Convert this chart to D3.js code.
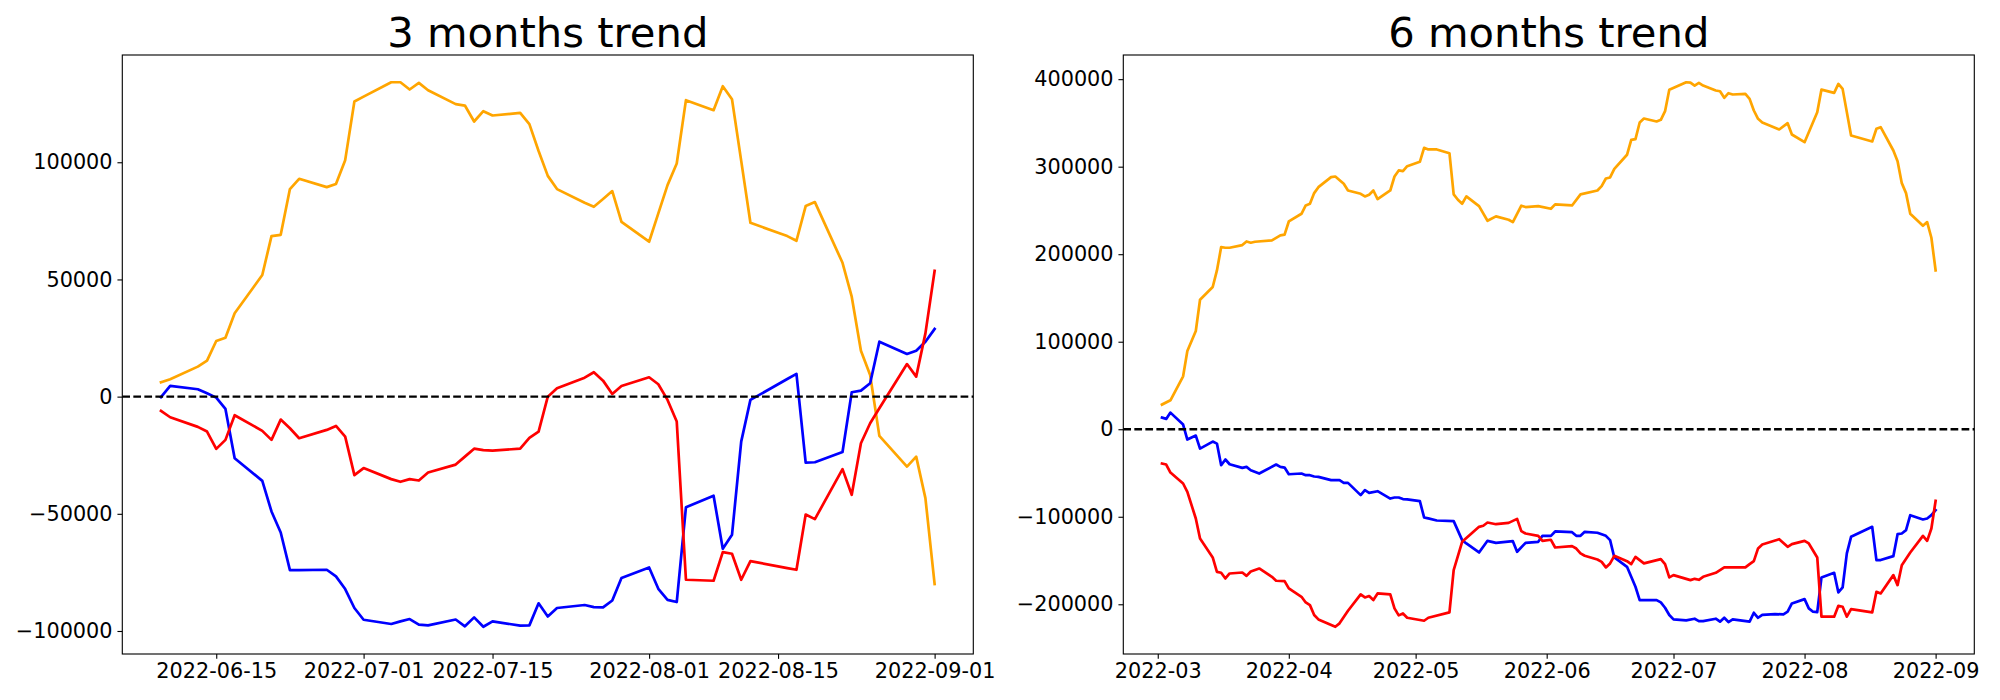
<!DOCTYPE html>
<html>
<head>
<meta charset="utf-8">
<script src="https://cdn.jsdelivr.net/npm/d3@7"></script>
<style>
  body { margin: 0; background: #fff; }
  text { font-family: "DejaVu Sans", sans-serif; }
</style>
</head>
<body>
<svg id="chart" width="2000" height="700"></svg>
<script>
// ---------------- DATA ----------------
const titles = ["3 months trend", "6 months trend"];

// 3-month panel: shared trading dates
const dates3 = ["2022-06-09","2022-06-10","2022-06-13","2022-06-14","2022-06-15","2022-06-16","2022-06-17","2022-06-20","2022-06-21","2022-06-22","2022-06-23","2022-06-24","2022-06-27","2022-06-28","2022-06-29","2022-06-30","2022-07-01","2022-07-04","2022-07-05","2022-07-06","2022-07-07","2022-07-08","2022-07-11","2022-07-12","2022-07-13","2022-07-14","2022-07-15","2022-07-18","2022-07-19","2022-07-20","2022-07-21","2022-07-22","2022-07-25","2022-07-26","2022-07-27","2022-07-28","2022-07-29","2022-08-01","2022-08-02","2022-08-03","2022-08-04","2022-08-05","2022-08-08","2022-08-09","2022-08-10","2022-08-11","2022-08-12","2022-08-15","2022-08-16","2022-08-17","2022-08-18","2022-08-19","2022-08-22","2022-08-23","2022-08-24","2022-08-25","2022-08-26","2022-08-29","2022-08-30","2022-08-31","2022-09-01"];
const orange3 = [6140,7400,12800,15350,23750,25150,35550,51900,68500,69050,88550,92950,89400,90700,100900,125900,128000,134150,134150,131050,133850,130750,124800,124200,117400,121800,119950,121050,116250,104800,94200,88550,82700,81000,84300,87700,74600,66100,78200,90250,99500,126500,122200,132450,126900,100600,74200,69900,68500,66500,81300,83000,57100,42650,19600,9250,-16750,-29850,-25600,-43300,-80000];
const blue3 = [-250,4560,3150,1450,-420,-5240,-26270,-35940,-49000,-57970,-74000,-74000,-73870,-76700,-82100,-90200,-95200,-97000,-95900,-94900,-97300,-97600,-95100,-98000,-94200,-98200,-95900,-97700,-97600,-88200,-93800,-90200,-88900,-89800,-89950,-86970,-77400,-72900,-82000,-86700,-87650,-47150,-42300,-64900,-58950,-19200,-1400,5290,7500,9680,-28130,-27990,-23600,1860,2560,5700,23450,18200,19600,23450,28860];
const red3 = [-6100,-8800,-12900,-14900,-22300,-18450,-7950,-14600,-18450,-9800,-13500,-17750,-14200,-12500,-17050,-33500,-30500,-35200,-36350,-35200,-35800,-32400,-29000,-25600,-22200,-22800,-23000,-22200,-17600,-14900,0,3570,8100,10400,6820,1150,4560,8270,5290,-1400,-10650,-78140,-78570,-66350,-67060,-78140,-70170,-72400,-73170,-73880,-50300,-52270,-30950,-41900,-19870,-11340,-4950,13900,8530,27000,53700];

// 6-month panel: [date, value] per series
const orange6 = [["2022-03-02",28200],["2022-03-04",33100],["2022-03-07",60500],["2022-03-08",89400],["2022-03-10",112200],["2022-03-11",148000],["2022-03-14",162500],["2022-03-15",181500],["2022-03-16",208100],["2022-03-17",207400],["2022-03-18",207400],["2022-03-21",210400],["2022-03-22",214600],["2022-03-23",213100],["2022-03-24",214200],["2022-03-28",215800],["2022-03-30",221500],["2022-03-31",222300],["2022-04-01",237400],["2022-04-04",246200],["2022-04-05",255700],["2022-04-06",257600],["2022-04-07",269800],["2022-04-08",276600],["2022-04-11",288000],["2022-04-12",288800],["2022-04-14",280500],["2022-04-15",272800],["2022-04-18",269000],["2022-04-19",266000],["2022-04-20",268000],["2022-04-21",272800],["2022-04-22",262900],["2022-04-25",272800],["2022-04-26",288800],["2022-04-27",295700],["2022-04-28",295000],["2022-04-29",300600],["2022-05-02",305600],["2022-05-03",321600],["2022-05-04",319700],["2022-05-06",319700],["2022-05-09",315400],["2022-05-10",268300],["2022-05-11",262200],["2022-05-12",257700],["2022-05-13",266000],["2022-05-16",254900],["2022-05-18",238200],["2022-05-20",243200],["2022-05-23",239400],["2022-05-24",236700],["2022-05-26",255400],["2022-05-27",253900],["2022-05-30",255000],["2022-06-02",251900],["2022-06-03",256900],["2022-06-07",255700],["2022-06-09",268300],["2022-06-13",272800],["2022-06-14",277800],["2022-06-15",286500],["2022-06-16",287700],["2022-06-17",297600],["2022-06-20",313600],["2022-06-21",330700],["2022-06-22",331500],["2022-06-23",350500],["2022-06-24",355000],["2022-06-27",351600],["2022-06-28",353500],["2022-06-29",363400],["2022-06-30",387800],["2022-07-04",396500],["2022-07-05",396100],["2022-07-06",392700],["2022-07-07",395700],["2022-07-08",392700],["2022-07-11",387000],["2022-07-12",386200],["2022-07-13",378700],["2022-07-14",384000],["2022-07-15",382500],["2022-07-18",383200],["2022-07-19",377500],["2022-07-20",364200],["2022-07-21",354700],["2022-07-22",350500],["2022-07-26",342500],["2022-07-28",349700],["2022-07-29",336800],["2022-08-01",328000],["2022-08-04",362200],["2022-08-05",388100],["2022-08-08",384400],["2022-08-09",394600],["2022-08-10",388900],["2022-08-12",335600],["2022-08-17",328800],["2022-08-18",343300],["2022-08-19",345100],["2022-08-22",318500],["2022-08-23",306300],["2022-08-24",281200],["2022-08-25",269800],["2022-08-26",246200],["2022-08-29",232500],["2022-08-30",236700],["2022-08-31",218800],["2022-09-01",181500]];

const blue6 = [["2022-03-02",13300],["2022-03-03",11800],["2022-03-04",19000],["2022-03-07",5300],["2022-03-08",-11800],["2022-03-10",-7200],["2022-03-11",-22100],["2022-03-14",-14100],["2022-03-15",-16400],["2022-03-16",-41100],["2022-03-17",-34600],["2022-03-18",-40000],["2022-03-21",-44100],["2022-03-22",-43000],["2022-03-23",-46800],["2022-03-25",-50600],["2022-03-29",-40300],["2022-03-30",-43000],["2022-03-31",-43800],["2022-04-01",-51400],["2022-04-04",-50600],["2022-04-05",-52500],["2022-04-06",-52500],["2022-04-07",-54000],["2022-04-08",-54400],["2022-04-11",-58200],["2022-04-13",-58200],["2022-04-14",-61300],["2022-04-15",-61300],["2022-04-18",-75300],["2022-04-19",-69600],["2022-04-20",-72700],["2022-04-22",-70800],["2022-04-25",-79200],["2022-04-26",-78000],["2022-04-27",-78000],["2022-04-28",-79800],["2022-04-29",-80200],["2022-05-02",-82200],["2022-05-03",-100800],["2022-05-04",-101900],["2022-05-06",-104300],["2022-05-10",-105000],["2022-05-12",-126700],["2022-05-13",-130500],["2022-05-16",-140800],["2022-05-18",-127500],["2022-05-20",-129800],["2022-05-24",-127900],["2022-05-25",-140000],["2022-05-27",-129800],["2022-05-30",-128600],["2022-05-31",-121800],["2022-06-02",-121800],["2022-06-03",-116800],["2022-06-07",-117600],["2022-06-08",-121800],["2022-06-09",-121800],["2022-06-10",-117200],["2022-06-13",-118300],["2022-06-15",-121800],["2022-06-16",-126700],["2022-06-17",-146500],["2022-06-20",-157200],["2022-06-21",-168600],["2022-06-22",-180000],["2022-06-23",-195200],["2022-06-27",-195200],["2022-06-28",-197900],["2022-06-29",-204000],["2022-06-30",-212300],["2022-07-01",-217300],["2022-07-04",-218400],["2022-07-06",-216500],["2022-07-07",-219200],["2022-07-08",-219200],["2022-07-11",-216500],["2022-07-12",-219900],["2022-07-13",-215400],["2022-07-14",-220300],["2022-07-15",-217300],["2022-07-19",-219900],["2022-07-20",-209700],["2022-07-21",-215400],["2022-07-22",-212000],["2022-07-25",-211200],["2022-07-27",-211600],["2022-07-28",-208500],["2022-07-29",-199000],["2022-08-01",-194100],["2022-08-02",-204700],["2022-08-03",-208500],["2022-08-04",-208900],["2022-08-05",-169300],["2022-08-08",-164000],["2022-08-09",-186500],["2022-08-10",-180800],["2022-08-11",-141900],["2022-08-12",-122900],["2022-08-17",-111500],["2022-08-18",-149500],["2022-08-19",-149500],["2022-08-22",-145000],["2022-08-23",-119900],["2022-08-24",-119100],["2022-08-25",-115300],["2022-08-26",-98200],["2022-08-29",-103100],["2022-08-30",-102000],["2022-08-31",-98200],["2022-09-01",-92500]];

const red6 = [["2022-03-02",-39200],["2022-03-03",-40300],["2022-03-04",-49500],["2022-03-07",-62000],["2022-03-08",-71500],["2022-03-10",-102000],["2022-03-11",-124800],["2022-03-14",-146500],["2022-03-15",-162900],["2022-03-16",-164000],["2022-03-17",-170500],["2022-03-18",-164800],["2022-03-21",-163700],["2022-03-22",-167500],["2022-03-23",-162500],["2022-03-25",-159100],["2022-03-28",-168600],["2022-03-29",-173100],["2022-03-31",-173500],["2022-04-01",-181900],["2022-04-04",-191400],["2022-04-05",-197900],["2022-04-06",-201000],["2022-04-07",-212300],["2022-04-08",-217300],["2022-04-12",-225700],["2022-04-13",-221800],["2022-04-15",-207400],["2022-04-18",-188700],["2022-04-19",-192200],["2022-04-20",-190600],["2022-04-21",-195200],["2022-04-22",-187600],["2022-04-25",-188700],["2022-04-26",-204700],["2022-04-27",-212700],["2022-04-28",-210500],["2022-04-29",-215400],["2022-05-03",-218800],["2022-05-04",-215400],["2022-05-09",-209300],["2022-05-10",-161000],["2022-05-12",-128600],["2022-05-16",-111500],["2022-05-17",-110300],["2022-05-18",-106600],["2022-05-20",-108500],["2022-05-23",-107000],["2022-05-25",-102400],["2022-05-26",-116400],["2022-05-27",-119100],["2022-05-30",-121800],["2022-05-31",-127500],["2022-06-02",-126300],["2022-06-03",-135100],["2022-06-07",-133600],["2022-06-08",-136300],["2022-06-09",-141900],["2022-06-10",-144600],["2022-06-13",-148800],["2022-06-14",-151500],["2022-06-15",-157900],["2022-06-16",-153300],["2022-06-17",-144600],["2022-06-20",-150700],["2022-06-21",-154200],["2022-06-22",-145800],["2022-06-24",-153300],["2022-06-28",-148400],["2022-06-29",-154200],["2022-06-30",-169300],["2022-07-01",-166700],["2022-07-05",-172400],["2022-07-06",-170900],["2022-07-07",-172000],["2022-07-08",-168600],["2022-07-11",-164000],["2022-07-13",-157900],["2022-07-18",-157900],["2022-07-19",-154200],["2022-07-20",-150700],["2022-07-21",-136200],["2022-07-22",-131700],["2022-07-26",-125600],["2022-07-28",-134300],["2022-07-29",-131300],["2022-08-01",-127500],["2022-08-02",-130500],["2022-08-04",-146500],["2022-08-05",-214200],["2022-08-08",-214200],["2022-08-09",-201700],["2022-08-10",-202800],["2022-08-11",-214200],["2022-08-12",-205500],["2022-08-17",-209300],["2022-08-18",-185700],["2022-08-19",-187600],["2022-08-22",-166700],["2022-08-23",-178100],["2022-08-24",-155300],["2022-08-26",-140800],["2022-08-29",-121800],["2022-08-30",-127500],["2022-08-31",-113400],["2022-09-01",-81800]];

const xTicks3 = ["2022-06-15","2022-07-01","2022-07-15","2022-08-01","2022-08-15","2022-09-01"];
const xTicks6 = ["2022-03","2022-04","2022-05","2022-06","2022-07","2022-08","2022-09"];
const yTicks3 = [-100000, -50000, 0, 50000, 100000];
const yTicks6 = [-200000, -100000, 0, 100000, 200000, 300000, 400000];
const seriesColors = ["orange", "blue", "red"];

// ---------------- DRAW ----------------
const parseDay = d3.timeParse("%Y-%m-%d");
const parseMonth = d3.timeParse("%Y-%m");
const svg = d3.select("#chart");
svg.append("rect").attr("width", 2000).attr("height", 700).attr("fill", "#fff");

const FS = 20.8, TICK = 4.86, PAD = 4.86, LW = 2.7, DLW = 2.3, SPINE = 1.11;

function panel(box, title, series, xTickVals, xFmt, yTickVals) {
  const g = svg.append("g");
  const all = series.flatMap(s => s.pts);
  const xe = d3.extent(all, p => +p[0]);
  const ye = d3.extent(all, p => p[1]);
  const xp = (xe[1] - xe[0]) * 0.05, yp = (ye[1] - ye[0]) * 0.05;
  const x = d3.scaleTime().domain([new Date(xe[0] - xp), new Date(xe[1] + xp)]).range([box.left, box.right]);
  const y = d3.scaleLinear().domain([ye[0] - yp, ye[1] + yp]).range([box.bottom, box.top]);

  const line = d3.line().x(p => x(p[0])).y(p => y(p[1]));
  series.forEach(s => {
    g.append("path").datum(s.pts).attr("d", line)
      .attr("fill", "none").attr("stroke", s.color).attr("stroke-width", LW)
      .attr("stroke-linejoin", "round").attr("stroke-linecap", "square");
  });

  // zero dashed line across axes
  g.append("line")
    .attr("x1", box.left).attr("x2", box.right)
    .attr("y1", y(0)).attr("y2", y(0))
    .attr("stroke", "#000").attr("stroke-width", DLW)
    .attr("stroke-dasharray", "7.7,3.33");

  // spines
  g.append("rect").attr("x", box.left).attr("y", box.top)
    .attr("width", box.right - box.left).attr("height", box.bottom - box.top)
    .attr("fill", "none").attr("stroke", "#000").attr("stroke-width", SPINE);

  // axes
  const xa = g.append("g").attr("transform", `translate(0,${box.bottom})`)
    .call(d3.axisBottom(x).tickValues(xTickVals).tickFormat(xFmt)
      .tickSize(TICK).tickPadding(PAD).tickSizeOuter(0));
  const ya = g.append("g").attr("transform", `translate(${box.left},0)`)
    .call(d3.axisLeft(y).tickValues(yTickVals).tickFormat(d3.format("d"))
      .tickSize(TICK).tickPadding(PAD).tickSizeOuter(0));
  [xa, ya].forEach(a => {
    a.select(".domain").remove();
    a.selectAll(".tick line").attr("stroke", "#000").attr("stroke-width", SPINE);
    a.selectAll(".tick text").attr("fill", "#000")
      .style("font-family", "'DejaVu Sans', sans-serif").style("font-size", FS + "px");
  });

  g.append("text").attr("x", (box.left + box.right) / 2).attr("y", box.top - 8.3)
    .attr("text-anchor", "middle").style("font-size", "41.7px").attr("fill", "#000")
    .text(title);
}

const s3 = [orange3, blue3, red3].map((vals, i) => ({
  color: seriesColors[i],
  pts: dates3.map((d, j) => [parseDay(d), vals[j]])
}));
const s6 = [orange6, blue6, red6].map((arr, i) => ({
  color: seriesColors[i],
  pts: arr.map(p => [parseDay(p[0]), p[1]])
}));

panel({left: 122.3, right: 973.3, top: 55, bottom: 654}, titles[0], s3,
  xTicks3.map(parseDay), d3.timeFormat("%Y-%m-%d"), yTicks3);
panel({left: 1123.3, right: 1974.3, top: 55, bottom: 654}, titles[1], s6,
  xTicks6.map(parseMonth), d3.timeFormat("%Y-%m"), yTicks6);
</script>
</body>
</html>
